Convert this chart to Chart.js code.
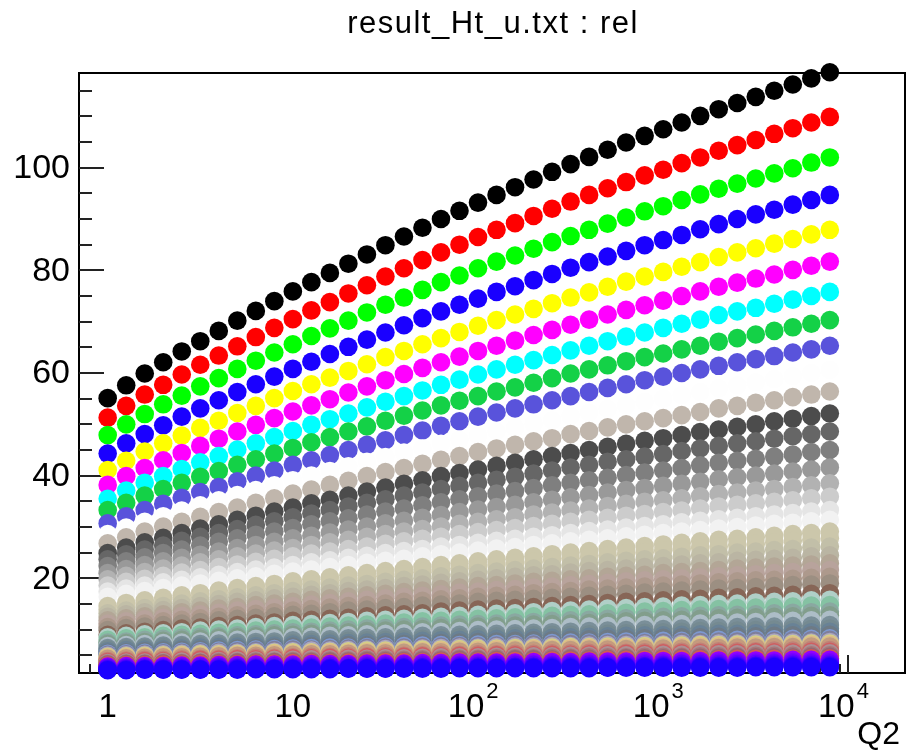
<!DOCTYPE html>
<html lang="en">
<head>
  <meta charset="UTF-8">
  <title>result_Ht_u.txt : rel</title>
  <style>
    body {
      margin: 0;
      background: #ffffff;
    }
    #wrap {
      width: 922px;
      height: 751px;
    }
  </style>
</head>
<body>
  <div id="wrap"><canvas id="chart"></canvas></div>

  <script src="https://cdn.jsdelivr.net/npm/chart.js"></script>
  <script>
    // Q2 points (log spaced, 40 per series)
    const q2 = [1, 1.259, 1.585, 1.995, 2.512, 3.162, 3.981, 5.012, 6.31, 7.943,
                10, 12.59, 15.85, 19.95, 25.12, 31.62, 39.81, 50.12, 63.1, 79.43,
                100, 125.9, 158.5, 199.5, 251.2, 316.2, 398.1, 501.2, 631, 794.3,
                1000, 1259, 1585, 1995, 2512, 3162, 3981, 5012, 6310, 7943];

    // one array per curve, top (black) to bottom (blue)
    const s01 = [55.1,57.6,59.9,62.1,64.2,66.2,68.2,70.2,72.1,74.0,75.9,77.7,79.5,81.3,83.1,84.9,86.6,88.3,90.0,91.6,93.2,94.7,96.2,97.7,99.2,100.7,102.1,103.5,104.9,106.2,107.5,108.8,110.1,111.4,112.6,113.8,115.0,116.2,117.4,118.6];
    const s02 = [51.3,53.6,55.8,57.7,59.7,61.6,63.4,65.2,67.0,68.8,70.5,72.2,73.8,75.5,77.1,78.8,80.4,82.0,83.5,85.0,86.5,87.9,89.2,90.6,92.0,93.4,94.7,96.0,97.2,98.5,99.6,100.9,102.0,103.3,104.4,105.4,106.6,107.7,108.8,109.9];
    const s03 = [47.9,50.0,52.0,53.9,55.6,57.4,59.0,60.8,62.4,64.0,65.6,67.2,68.7,70.2,71.8,73.3,74.7,76.2,77.7,79.0,80.4,81.7,82.9,84.2,85.5,86.7,87.9,89.1,90.3,91.5,92.5,93.7,94.8,95.9,96.9,97.9,98.9,99.9,101.0,102.0];
    const s04 = [44.3,46.3,48.1,49.8,51.5,53.1,54.7,56.3,57.8,59.3,60.8,62.2,63.7,65.1,66.5,67.9,69.3,70.7,72.0,73.3,74.5,75.8,76.9,78.1,79.3,80.5,81.6,82.7,83.8,84.9,85.9,86.9,88.0,89.0,90.0,90.9,91.8,92.8,93.7,94.7];
    const s05 = [41.1,42.9,44.7,46.3,47.8,49.3,50.7,52.2,53.6,55.1,56.5,57.8,59.1,60.4,61.7,63.1,64.3,65.6,66.8,68.0,69.2,70.3,71.4,72.5,73.6,74.7,75.7,76.8,77.8,78.8,79.7,80.7,81.6,82.6,83.5,84.3,85.2,86.1,87.0,87.9];
    const s06 = [38.2,39.9,41.5,43.0,44.4,45.8,47.2,48.6,49.9,51.2,52.5,53.7,54.9,56.2,57.4,58.6,59.8,61.0,62.1,63.2,64.3,65.3,66.3,67.4,68.4,69.4,70.4,71.4,72.3,73.2,74.1,75.0,75.9,76.8,77.6,78.4,79.2,80.1,80.9,81.7];
    const s07 = [35.5,37.1,38.6,39.9,41.3,42.6,43.8,45.1,46.3,47.5,48.7,49.9,51.0,52.1,53.3,54.4,55.5,56.6,57.7,58.7,59.7,60.7,61.6,62.5,63.5,64.4,65.3,66.2,67.1,67.9,68.8,69.6,70.4,71.3,72.0,72.7,73.5,74.3,75.0,75.8];
    const s08 = [33.3,34.7,36.1,37.4,38.6,39.8,40.9,42.1,43.2,44.3,45.4,46.5,47.5,48.6,49.6,50.7,51.7,52.7,53.7,54.6,55.5,56.4,57.2,58.1,59.0,59.9,60.7,61.5,62.3,63.1,63.8,64.6,65.3,66.1,66.8,67.5,68.2,68.9,69.6,70.3];
    const s09 = [30.7,32.1,33.3,34.5,35.7,36.8,37.8,38.9,40.0,41.0,42.1,43.0,44.0,45.0,46.0,46.9,47.9,48.8,49.7,50.6,51.5,52.3,53.1,53.9,54.7,55.5,56.3,57.1,57.8,58.6,59.3,60.0,60.7,61.4,62.1,62.7,63.3,64.0,64.6,65.3];
    const s10 = [28.6,29.9,31.0,32.1,33.2,34.2,35.2,36.2,37.2,38.1,39.1,40.0,40.9,41.8,42.7,43.6,44.5,45.3,46.2,47.0,47.8,48.6,49.3,50.1,50.8,51.6,52.3,53.0,53.7,54.4,55.0,55.7,56.3,57.0,57.6,58.2,58.8,59.4,60.0,60.6];
    const s11 = [26.8,28.0,29.1,30.1,31.0,32.0,32.9,33.8,34.7,35.6,36.5,37.3,38.2,39.0,39.9,40.7,41.5,42.3,43.1,43.8,44.6,45.3,46.0,46.7,47.3,48.1,48.7,49.4,50.0,50.6,51.2,51.8,52.4,53.1,53.6,54.2,54.7,55.3,55.8,56.4];
    const s12 = [24.9,26.0,27.0,27.9,28.8,29.7,30.5,31.4,32.2,33.0,33.8,34.6,35.3,36.1,36.9,37.7,38.4,39.1,39.9,40.5,41.2,41.9,42.5,43.2,43.8,44.4,45.0,45.6,46.2,46.8,47.3,47.9,48.5,49.0,49.5,50.0,50.6,51.1,51.6,52.1];
    const s13 = [23.7,24.7,25.6,26.4,27.3,28.1,28.8,29.6,30.4,31.1,31.9,32.6,33.3,34.0,34.7,35.4,36.1,36.7,37.4,38.0,38.6,39.2,39.8,40.4,41.0,41.6,42.1,42.7,43.2,43.7,44.2,44.8,45.3,45.8,46.3,46.7,47.2,47.7,48.1,48.6];
    const s14 = [22.4,23.3,24.1,24.9,25.6,26.4,27.1,27.8,28.5,29.1,29.8,30.5,31.1,31.7,32.4,33.0,33.6,34.2,34.8,35.4,36.0,36.5,37.0,37.6,38.1,38.6,39.1,39.6,40.1,40.6,41.0,41.5,42.0,42.5,42.9,43.3,43.7,44.1,44.6,45.0];
    const s15 = [21.0,21.8,22.6,23.3,24.0,24.6,25.2,25.9,26.5,27.1,27.8,28.3,28.9,29.5,30.1,30.7,31.2,31.8,32.3,32.9,33.4,33.9,34.3,34.8,35.3,35.8,36.2,36.7,37.2,37.6,38.0,38.4,38.8,39.3,39.7,40.0,40.4,40.8,41.2,41.6];
    const s16 = [19.8,20.5,21.2,21.9,22.5,23.1,23.7,24.3,24.8,25.4,25.9,26.5,27.0,27.5,28.1,28.6,29.1,29.6,30.1,30.6,31.0,31.5,31.9,32.4,32.8,33.2,33.6,34.1,34.5,34.9,35.2,35.6,36.0,36.4,36.7,37.1,37.4,37.8,38.1,38.5];
    const s17 = [18.6,19.3,19.9,20.5,21.1,21.6,22.2,22.7,23.2,23.8,24.3,24.8,25.2,25.7,26.2,26.7,27.2,27.7,28.1,28.6,29.0,29.4,29.8,30.2,30.6,31.0,31.4,31.8,32.2,32.5,32.9,33.2,33.6,34.0,34.3,34.6,34.9,35.2,35.6,35.9];
    const s18 = [17.4,18.0,18.6,19.2,19.7,20.2,20.7,21.2,21.7,22.1,22.6,23.1,23.5,24.0,24.4,24.9,25.3,25.7,26.2,26.5,26.9,27.3,27.7,28.1,28.4,28.8,29.2,29.5,29.9,30.2,30.5,30.9,31.2,31.5,31.8,32.1,32.4,32.7,33.0,33.3];
    const s19 = [16.4,17.0,17.5,18.1,18.6,19.0,19.5,20.0,20.4,20.9,21.3,21.7,22.2,22.6,23.0,23.4,23.8,24.3,24.7,25.0,25.4,25.8,26.1,26.5,26.8,27.2,27.5,27.8,28.2,28.5,28.8,29.1,29.4,29.7,30.0,30.3,30.6,30.8,31.1,31.4];
    const s20 = [14.6,15.2,15.7,16.2,16.7,17.1,17.6,18.1,18.5,18.9,19.4,19.8,20.2,20.6,21.0,21.4,21.8,22.2,22.6,22.9,23.3,23.7,24.0,24.3,24.7,25.0,25.3,25.7,26.0,26.3,26.6,26.9,27.2,27.5,27.7,28.0,28.3,28.6,28.8,29.1];
    const s21 = [13.9,14.4,15.0,15.4,15.9,16.3,16.8,17.2,17.6,18.0,18.5,18.9,19.2,19.6,20.0,20.4,20.8,21.2,21.6,21.9,22.2,22.6,22.9,23.2,23.6,23.9,24.2,24.5,24.8,25.1,25.4,25.7,25.9,26.2,26.5,26.7,27.0,27.3,27.5,27.8];
    const s22 = [13.2,13.7,14.2,14.6,15.1,15.5,15.9,16.3,16.7,17.1,17.5,17.8,18.2,18.6,18.9,19.3,19.7,20.0,20.4,20.7,21.0,21.3,21.6,21.9,22.2,22.5,22.8,23.1,23.4,23.7,23.9,24.2,24.5,24.7,25.0,25.2,25.5,25.7,26.0,26.2];
    const s23 = [12.5,13.0,13.4,13.8,14.2,14.6,15.0,15.4,15.7,16.1,16.4,16.8,17.1,17.5,17.8,18.1,18.5,18.8,19.1,19.4,19.7,20.0,20.3,20.6,20.8,21.1,21.4,21.6,21.9,22.2,22.4,22.7,22.9,23.1,23.4,23.6,23.8,24.0,24.3,24.5];
    const s24 = [11.8,12.2,12.6,13.0,13.4,13.7,14.1,14.4,14.8,15.1,15.4,15.8,16.1,16.4,16.7,17.0,17.3,17.6,17.9,18.2,18.5,18.7,19.0,19.3,19.5,19.8,20.0,20.3,20.5,20.7,21.0,21.2,21.4,21.6,21.9,22.1,22.3,22.5,22.7,22.9];
    const s25 = [11.2,11.6,12.0,12.3,12.7,13.0,13.3,13.7,14.0,14.3,14.6,14.9,15.2,15.5,15.8,16.1,16.4,16.6,16.9,17.2,17.4,17.7,17.9,18.2,18.4,18.7,18.9,19.1,19.4,19.6,19.8,20.0,20.2,20.4,20.6,20.8,21.0,21.2,21.4,21.6];
    const s26 = [10.5,10.9,11.2,11.6,11.9,12.2,12.5,12.8,13.1,13.4,13.7,14.0,14.3,14.6,14.8,15.1,15.4,15.6,15.9,16.1,16.4,16.6,16.8,17.1,17.3,17.5,17.8,18.0,18.2,18.4,18.6,18.8,19.0,19.2,19.4,19.6,19.7,19.9,20.1,20.3];
    const s27 = [9.9,10.3,10.6,10.9,11.2,11.5,11.8,12.1,12.3,12.6,12.9,13.1,13.4,13.7,13.9,14.2,14.4,14.7,14.9,15.1,15.4,15.6,15.8,16.0,16.2,16.4,16.6,16.8,17.0,17.2,17.4,17.6,17.8,18.0,18.1,18.3,18.5,18.7,18.8,19.0];
    const s28 = [9.0,9.3,9.6,9.9,10.2,10.4,10.7,10.9,11.2,11.4,11.7,11.9,12.1,12.3,12.6,12.8,13.0,13.2,13.5,13.7,13.9,14.1,14.2,14.4,14.6,14.8,15.0,15.2,15.4,15.5,15.7,15.9,16.0,16.2,16.3,16.5,16.6,16.8,17.0,17.1];
    const s29 = [8.5,8.8,9.1,9.3,9.5,9.8,10.0,10.2,10.5,10.7,10.9,11.1,11.3,11.5,11.7,11.9,12.1,12.3,12.5,12.7,12.9,13.1,13.2,13.4,13.6,13.7,13.9,14.1,14.2,14.4,14.5,14.7,14.8,15.0,15.1,15.3,15.4,15.5,15.7,15.8];
    const s30 = [8.0,8.3,8.5,8.8,9.0,9.2,9.4,9.6,9.8,10.0,10.2,10.4,10.6,10.8,11.0,11.2,11.4,11.6,11.7,11.9,12.1,12.2,12.4,12.6,12.7,12.9,13.0,13.2,13.3,13.5,13.6,13.8,13.9,14.0,14.2,14.3,14.4,14.5,14.7,14.8];
    const s31 = [7.5,7.7,8.0,8.2,8.4,8.6,8.7,8.9,9.1,9.3,9.5,9.6,9.8,10.0,10.2,10.3,10.5,10.6,10.8,11.0,11.1,11.2,11.4,11.5,11.7,11.8,11.9,12.1,12.2,12.3,12.5,12.6,12.7,12.8,12.9,13.0,13.2,13.3,13.4,13.5];
    const s32 = [7.2,7.4,7.6,7.8,8.0,8.2,8.4,8.5,8.7,8.9,9.0,9.2,9.4,9.5,9.7,9.8,10.0,10.1,10.3,10.4,10.6,10.7,10.8,11.0,11.1,11.2,11.3,11.5,11.6,11.7,11.8,11.9,12.1,12.2,12.3,12.4,12.5,12.6,12.7,12.8];
    const s33 = [6.8,7.0,7.2,7.4,7.5,7.7,7.9,8.0,8.2,8.3,8.5,8.6,8.8,8.9,9.1,9.2,9.3,9.5,9.6,9.7,9.9,10.0,10.1,10.2,10.3,10.5,10.6,10.7,10.8,10.9,11.0,11.1,11.2,11.3,11.4,11.5,11.6,11.7,11.8,11.9];
    const s34 = [6.4,6.6,6.7,6.9,7.0,7.2,7.3,7.5,7.6,7.7,7.9,8.0,8.1,8.3,8.4,8.5,8.6,8.8,8.9,9.0,9.1,9.2,9.3,9.4,9.5,9.6,9.7,9.8,9.9,10.0,10.1,10.2,10.3,10.4,10.5,10.6,10.6,10.7,10.8,10.9];
    const s35 = [6.1,6.3,6.4,6.6,6.7,6.8,6.9,7.1,7.2,7.3,7.4,7.6,7.7,7.8,7.9,8.0,8.1,8.2,8.4,8.5,8.6,8.7,8.8,8.9,9.0,9.0,9.1,9.2,9.3,9.4,9.5,9.6,9.7,9.7,9.8,9.9,10.0,10.0,10.1,10.2];
    const s36 = [5.8,6.0,6.1,6.2,6.3,6.5,6.6,6.7,6.8,6.9,7.1,7.2,7.3,7.4,7.5,7.6,7.7,7.8,7.9,8.0,8.1,8.2,8.3,8.4,8.4,8.5,8.6,8.7,8.8,8.9,8.9,9.0,9.1,9.2,9.2,9.3,9.4,9.5,9.5,9.6];
    const s37 = [5.5,5.6,5.8,5.9,6.0,6.1,6.2,6.3,6.4,6.5,6.7,6.8,6.8,7.0,7.0,7.1,7.2,7.3,7.4,7.5,7.6,7.7,7.8,7.9,7.9,8.0,8.1,8.2,8.2,8.3,8.4,8.5,8.5,8.6,8.7,8.7,8.8,8.9,8.9,9.0];
    const s38 = [5.3,5.4,5.5,5.6,5.7,5.8,5.9,6.0,6.1,6.2,6.3,6.4,6.5,6.5,6.6,6.7,6.8,6.9,7.0,7.0,7.1,7.2,7.2,7.3,7.4,7.5,7.5,7.6,7.7,7.7,7.8,7.8,7.9,8.0,8.0,8.1,8.1,8.2,8.2,8.3];
    const s39 = [5.1,5.2,5.3,5.4,5.5,5.6,5.7,5.8,5.9,6.0,6.1,6.1,6.2,6.3,6.4,6.5,6.5,6.6,6.7,6.8,6.8,6.9,7.0,7.1,7.1,7.2,7.3,7.3,7.4,7.4,7.5,7.6,7.6,7.7,7.7,7.8,7.8,7.9,7.9,8.0];
    const s40 = [4.9,5.0,5.1,5.2,5.3,5.4,5.5,5.5,5.6,5.7,5.8,5.9,5.9,6.0,6.1,6.2,6.2,6.3,6.4,6.5,6.5,6.6,6.7,6.7,6.8,6.8,6.9,7.0,7.0,7.1,7.1,7.2,7.2,7.3,7.3,7.4,7.5,7.5,7.5,7.6];
    const s41 = [4.7,4.8,4.9,5.0,5.1,5.2,5.2,5.3,5.4,5.5,5.6,5.6,5.7,5.8,5.9,5.9,6.0,6.1,6.1,6.2,6.3,6.3,6.4,6.4,6.5,6.6,6.6,6.7,6.7,6.8,6.9,6.9,7.0,7.0,7.1,7.1,7.2,7.2,7.3,7.3];
    const s42 = [4.5,4.6,4.7,4.8,4.9,4.9,5.0,5.1,5.2,5.3,5.3,5.4,5.5,5.5,5.6,5.7,5.7,5.8,5.9,5.9,6.0,6.1,6.1,6.2,6.2,6.3,6.4,6.4,6.5,6.5,6.6,6.6,6.7,6.7,6.8,6.8,6.9,6.9,7.0,7.0];
    const s43 = [4.3,4.4,4.5,4.6,4.6,4.7,4.8,4.9,4.9,5.0,5.1,5.2,5.2,5.3,5.4,5.4,5.5,5.6,5.6,5.7,5.7,5.8,5.9,5.9,6.0,6.0,6.1,6.1,6.2,6.2,6.3,6.3,6.4,6.4,6.5,6.5,6.6,6.6,6.7,6.7];
    const s44 = [4.1,4.2,4.3,4.4,4.4,4.5,4.6,4.7,4.7,4.8,4.9,4.9,5.0,5.1,5.1,5.2,5.2,5.3,5.4,5.4,5.5,5.5,5.6,5.6,5.7,5.8,5.8,5.9,5.9,6.0,6.0,6.1,6.1,6.1,6.2,6.2,6.3,6.3,6.4,6.4];
    const s45 = [3.9,4.0,4.1,4.1,4.2,4.3,4.3,4.4,4.5,4.5,4.6,4.7,4.7,4.8,4.8,4.9,4.9,5.0,5.1,5.1,5.2,5.2,5.3,5.3,5.4,5.4,5.5,5.5,5.5,5.6,5.6,5.7,5.7,5.8,5.8,5.8,5.9,5.9,6.0,6.0];
    const s46 = [3.7,3.8,3.9,3.9,4.0,4.1,4.1,4.2,4.2,4.3,4.4,4.4,4.5,4.5,4.6,4.6,4.7,4.8,4.8,4.9,4.9,5.0,5.0,5.0,5.1,5.1,5.2,5.2,5.3,5.3,5.4,5.4,5.4,5.5,5.5,5.6,5.6,5.6,5.7,5.7];
    const s47 = [3.5,3.6,3.6,3.7,3.8,3.8,3.9,4.0,4.0,4.1,4.1,4.2,4.2,4.3,4.3,4.4,4.4,4.5,4.6,4.6,4.6,4.7,4.7,4.8,4.8,4.9,4.9,5.0,5.0,5.0,5.1,5.1,5.2,5.2,5.2,5.3,5.3,5.3,5.4,5.4];
    const s48 = [3.3,3.4,3.4,3.5,3.5,3.6,3.7,3.7,3.8,3.8,3.9,3.9,4.0,4.0,4.1,4.1,4.1,4.2,4.2,4.3,4.3,4.4,4.4,4.4,4.5,4.5,4.6,4.6,4.6,4.7,4.7,4.7,4.8,4.8,4.8,4.9,4.9,4.9,5.0,5.0];
    const s49 = [3.2,3.3,3.3,3.4,3.4,3.5,3.5,3.6,3.6,3.7,3.7,3.7,3.8,3.8,3.9,3.9,3.9,4.0,4.0,4.1,4.1,4.1,4.2,4.2,4.2,4.3,4.3,4.3,4.4,4.4,4.4,4.5,4.5,4.5,4.6,4.6,4.6,4.6,4.7,4.7];
    const s50 = [3.0,3.1,3.1,3.2,3.2,3.3,3.3,3.3,3.4,3.4,3.5,3.5,3.5,3.6,3.6,3.7,3.7,3.7,3.8,3.8,3.8,3.9,3.9,3.9,4.0,4.0,4.0,4.1,4.1,4.1,4.2,4.2,4.2,4.2,4.3,4.3,4.3,4.3,4.4,4.4];
    const s51 = [2.8,2.9,2.9,2.9,3.0,3.0,3.1,3.1,3.2,3.2,3.2,3.3,3.3,3.3,3.4,3.4,3.4,3.5,3.5,3.6,3.6,3.6,3.6,3.7,3.7,3.7,3.8,3.8,3.8,3.9,3.9,3.9,3.9,4.0,4.0,4.0,4.0,4.1,4.1,4.1];
    const s52 = [2.6,2.6,2.7,2.7,2.8,2.8,2.8,2.9,2.9,2.9,3.0,3.0,3.0,3.1,3.1,3.1,3.2,3.2,3.2,3.2,3.3,3.3,3.3,3.3,3.4,3.4,3.4,3.4,3.5,3.5,3.5,3.5,3.6,3.6,3.6,3.6,3.6,3.7,3.7,3.7];
    const s53 = [2.5,2.5,2.6,2.6,2.6,2.7,2.7,2.7,2.7,2.8,2.8,2.8,2.9,2.9,2.9,2.9,3.0,3.0,3.0,3.0,3.0,3.1,3.1,3.1,3.1,3.2,3.2,3.2,3.2,3.2,3.2,3.3,3.3,3.3,3.3,3.3,3.4,3.4,3.4,3.4];
    const s54 = [2.3,2.3,2.4,2.4,2.4,2.4,2.5,2.5,2.5,2.5,2.6,2.6,2.6,2.6,2.7,2.7,2.7,2.7,2.7,2.8,2.8,2.8,2.8,2.8,2.9,2.9,2.9,2.9,2.9,2.9,3.0,3.0,3.0,3.0,3.0,3.0,3.1,3.1,3.1,3.1];
    const s55 = [2.2,2.2,2.3,2.3,2.3,2.3,2.3,2.4,2.4,2.4,2.4,2.5,2.5,2.5,2.5,2.5,2.6,2.6,2.6,2.6,2.6,2.6,2.7,2.7,2.7,2.7,2.7,2.7,2.8,2.8,2.8,2.8,2.8,2.8,2.8,2.9,2.9,2.9,2.9,2.9];
    const s56 = [2.1,2.1,2.2,2.2,2.2,2.2,2.2,2.2,2.3,2.3,2.3,2.3,2.3,2.4,2.4,2.4,2.4,2.4,2.4,2.5,2.5,2.5,2.5,2.5,2.5,2.5,2.5,2.6,2.6,2.6,2.6,2.6,2.6,2.6,2.6,2.7,2.7,2.7,2.7,2.7];

    const allSeries = [s01, s02, s03, s04, s05, s06, s07, s08, s09, s10,
                       s11, s12, s13, s14, s15, s16, s17, s18, s19, s20,
                       s21, s22, s23, s24, s25, s26, s27, s28, s29, s30,
                       s31, s32, s33, s34, s35, s36, s37, s38, s39, s40,
                       s41, s42, s43, s44, s45, s46, s47, s48, s49, s50,
                       s51, s52, s53, s54, s55, s56];

    // ROOT style marker colours, index 1..56
    const seriesColors = [
      '#000000', '#ff0000', '#00ff00', '#1a00ff', '#ffff00', '#ff00ff', '#00ffff', '#14d147', '#5953db', '#fefefe',
      '#c0b6ac', '#4c4c4c', '#666666', '#7f7f7f', '#999999', '#b2b2b2', '#cccccc', '#e5e5e5', '#f2f2f2', '#ccc7ab',
      '#ccc7ab', '#c2bfa8', '#bab5a3', '#b3a696', '#b8a39c', '#ad998c', '#9c8f82', '#876657', '#b0cfc7', '#85c2a3',
      '#8aa8a1', '#829e8c', '#adbdc7', '#7a8f99', '#758a91', '#698296', '#6e7a85', '#7d99d1', '#7f7f9c', '#aba6bf',
      '#d4cf87', '#deba87', '#bd9e82', '#c7997d', '#bf8278', '#cf5e61', '#ab8f94', '#a6787a', '#946970', '#d45954',
      '#9200ff', '#7a00ff', '#6300ff', '#4b00ff', '#3300ff', '#1b00ff'
    ];

    // axes
    const xMajor = [1, 10, 100, 1000, 10000];
    const xLabelBase = ['1', '10', '10', '10', '10'];
    const xLabelExp = ['', '', '2', '3', '4'];
    const yMajor = [20, 40, 60, 80, 100];
    const yLabels = ['20', '40', '60', '80', '100'];

    const FONT = '"Liberation Sans", Arial, Helvetica, sans-serif';

    // minor ticks: 2..9 per decade on x, every 5 on y
    const xMinor = [];
    for (let d = 0.1; d <= 10000; d *= 10) {
      for (let m = 2; m <= 9; m++) xMinor.push(m * d);
    }
    const yMinor = [];
    for (let v = 5; v < 118; v += 5) {
      if (v % 20 !== 0) yMinor.push(v);
    }

    const rootFrame = {
      id: 'rootFrame',
      beforeDraw(chart) {
        const ctx = chart.ctx;
        ctx.save();
        ctx.fillStyle = '#ffffff';
        ctx.fillRect(0, 0, chart.width, chart.height);
        ctx.restore();
      },
      beforeDatasetsDraw(chart) {
        const { ctx, chartArea: a, scales } = chart;
        const x = scales.x, y = scales.y;
        ctx.save();
        ctx.strokeStyle = '#000000';
        ctx.lineWidth = 2;
        ctx.strokeRect(a.left, a.top, a.right - a.left, a.bottom - a.top);

        ctx.strokeStyle = '#222222';
        ctx.beginPath();
        yMajor.forEach(v => {
          const py = Math.round(y.getPixelForValue(v));
          ctx.moveTo(a.left, py);
          ctx.lineTo(a.left + 25, py);
        });
        yMinor.forEach(v => {
          const py = Math.round(y.getPixelForValue(v));
          ctx.moveTo(a.left, py);
          ctx.lineTo(a.left + 13, py);
        });
        xMajor.forEach(v => {
          const px = Math.round(x.getPixelForValue(v));
          ctx.moveTo(px, a.bottom);
          ctx.lineTo(px, a.bottom - 18);
        });
        xMinor.forEach(v => {
          const px = Math.round(x.getPixelForValue(v));
          if (px <= a.left + 1 || px >= a.right - 1) return;
          ctx.moveTo(px, a.bottom);
          ctx.lineTo(px, a.bottom - 9);
        });
        ctx.stroke();
        ctx.restore();
      },
      afterDraw(chart) {
        const { ctx, scales } = chart;
        const x = scales.x, y = scales.y;
        ctx.save();
        ctx.fillStyle = '#000000';

        // y labels
        ctx.font = '34px ' + FONT;
        ctx.textAlign = 'right';
        ctx.textBaseline = 'middle';
        yMajor.forEach((v, i) => {
          ctx.fillText(yLabels[i], 70, y.getPixelForValue(v) + 1);
        });

        // x labels with superscript exponents
        ctx.textBaseline = 'alphabetic';
        xMajor.forEach((v, i) => {
          const px = x.getPixelForValue(v);
          ctx.font = '33px ' + FONT;
          const wb = ctx.measureText(xLabelBase[i]).width;
          if (!xLabelExp[i]) {
            ctx.textAlign = 'center';
            ctx.fillText(xLabelBase[i], px, 717);
          } else {
            const left = px - 12 - wb / 2;
            ctx.textAlign = 'left';
            ctx.fillText(xLabelBase[i], left, 717);
            ctx.font = '22px ' + FONT;
            ctx.fillText(xLabelExp[i], left + wb + 2, 698);
          }
        });

        // axis title
        ctx.font = '32px ' + FONT;
        ctx.textAlign = 'right';
        ctx.fillText('Q2', 900, 744);

        // chart title
        ctx.font = '31px ' + FONT;
        ctx.textAlign = 'center';
        if ('letterSpacing' in ctx) ctx.letterSpacing = '1.5px';
        ctx.fillText('result_Ht_u.txt : rel', 493, 33);
        ctx.restore();
      }
    };

    const datasets = allSeries.map((vals, k) => ({
      label: 'curve ' + (k + 1),
      data: q2.map((q, i) => ({ x: q, y: vals[i] })),
      showLine: false,
      pointStyle: 'circle',
      pointRadius: 9.3,
      pointBorderWidth: 0,
      pointBackgroundColor: seriesColors[k],
      pointBorderColor: seriesColors[k],
      clip: false,
      // later curves are painted over the earlier ones, like ROOT does
      order: allSeries.length - k
    }));

    new Chart(document.getElementById('chart'), {
      type: 'scatter',
      data: { datasets },
      options: {
        responsive: true,
        maintainAspectRatio: false,
        animation: false,
        events: [],
        layout: { padding: { left: 79, right: 17, top: 73, bottom: 78 } },
        plugins: {
          legend: { display: false },
          tooltip: { enabled: false },
          title: { display: false }
        },
        scales: {
          x: { type: 'logarithmic', min: 0.7064, max: 20230, display: false },
          y: { type: 'linear', min: 1.55, max: 118.45, display: false }
        }
      },
      plugins: [rootFrame]
    });
  </script>
</body>
</html>
